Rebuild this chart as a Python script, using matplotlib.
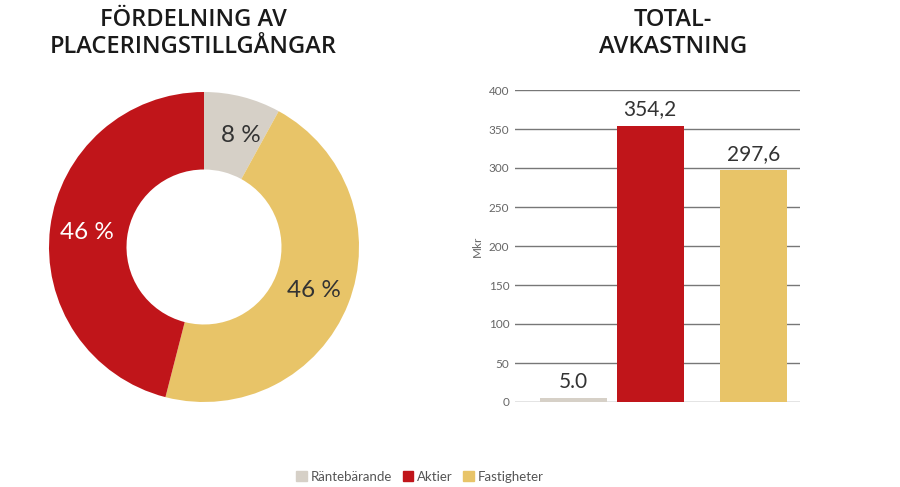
import numpy as np
import matplotlib.pyplot as plt
from matplotlib.patches import Patch

# data
categories = ["Räntebärande", "Aktier", "Fastigheter"]
colors = ["#d6d0c7", "#c0151a", "#e8c468"]

# allocation shares (%), drawn clockwise from the top: grey, yellow, red
share_labels = ["Räntebärande", "Fastigheter", "Aktier"]
share_values = [8, 46, 46]
share_text = ["8 %", "46 %", "46 %"]

# total return (Mkr)
return_values = [5.0, 354.2, 297.6]
return_text = ["5.0", "354,2", "297,6"]
y_ticks = [0, 50, 100, 150, 200, 250, 300, 350, 400]

plt.rcParams['font.family'] = ['Lato', 'DejaVu Sans']

W, H = 900, 487
fig = plt.figure(figsize=(9, 4.87), dpi=100)

# donut
ax1 = fig.add_axes([49 / W, (H - 402) / H, 310 / W, 310 / H])
col_of = dict(zip(categories, colors))
wedges, _ = ax1.pie(share_values, colors=[col_of[c] for c in share_labels],
                    startangle=90, counterclock=False, radius=1,
                    wedgeprops=dict(width=0.5, linewidth=0))
ax1.set_xlim(-1, 1)
ax1.set_ylim(-1, 1)
ax1.set_aspect("equal")
ax1.axis("off")
for w, txt, lab in zip(wedges, share_text, share_labels):
    mid = np.deg2rad((w.theta1 + w.theta2) / 2)
    if lab == "Räntebärande":
        mid -= np.deg2rad(4)
    r = 0.76
    tc = "white" if lab == "Aktier" else "#333333"
    ax1.text(r * np.cos(mid), r * np.sin(mid), txt, ha="center", va="center",
             fontsize=17.5, color=tc)

title_kw = dict(ha="center", va="center", fontsize=17, color="#1a1a1a",
                family="Open Sans", fontweight="semibold")
fig.text(193 / W, 1 - 20 / H, "FÖRDELNING AV", **title_kw)
fig.text(193 / W, 1 - 47 / H, "PLACERINGSTILLGÅNGAR", **title_kw)

# bars
ax2 = fig.add_axes([515 / W, (H - 402) / H, 285 / W, 312 / H])
xpos = [0, 1.15, 2.7]
ax2.bar(xpos, return_values, width=1.0, color=colors, zorder=3)
for x, v, t in zip(xpos, return_values, return_text):
    ax2.text(x, v + 8, t, ha="center", va="bottom", fontsize=15,
             color="#333333")
ax2.set_xlim(-0.87, 3.39)
ax2.set_ylim(0, 400)
ax2.set_yticks(y_ticks)
ax2.set_yticklabels([str(t) for t in y_ticks], fontsize=8.5, color="#666666")
ax2.tick_params(axis="y", length=0, pad=4)
ax2.set_xticks([])
ax2.grid(axis="y", color="#777777", linewidth=1, zorder=0)
for s in ax2.spines.values():
    s.set_visible(False)
ax2.set_ylabel("Mkr", fontsize=8.5, color="#666666", labelpad=4)

fig.text(673 / W, 1 - 20 / H, "TOTAL-", **title_kw)
fig.text(673 / W, 1 - 47 / H, "AVKASTNING", **title_kw)

# legend
handles = [Patch(color=c, label=l) for c, l in zip(colors, categories)]
fig.legend(handles=handles, loc="center", bbox_to_anchor=(420 / W, 1 - 477 / H),
           ncol=3, frameon=False, fontsize=9.5, handlelength=0.8, handleheight=0.8,
           handletextpad=0.3, columnspacing=0.8, labelcolor="#555555")

fig.savefig("out.png", dpi=100)
